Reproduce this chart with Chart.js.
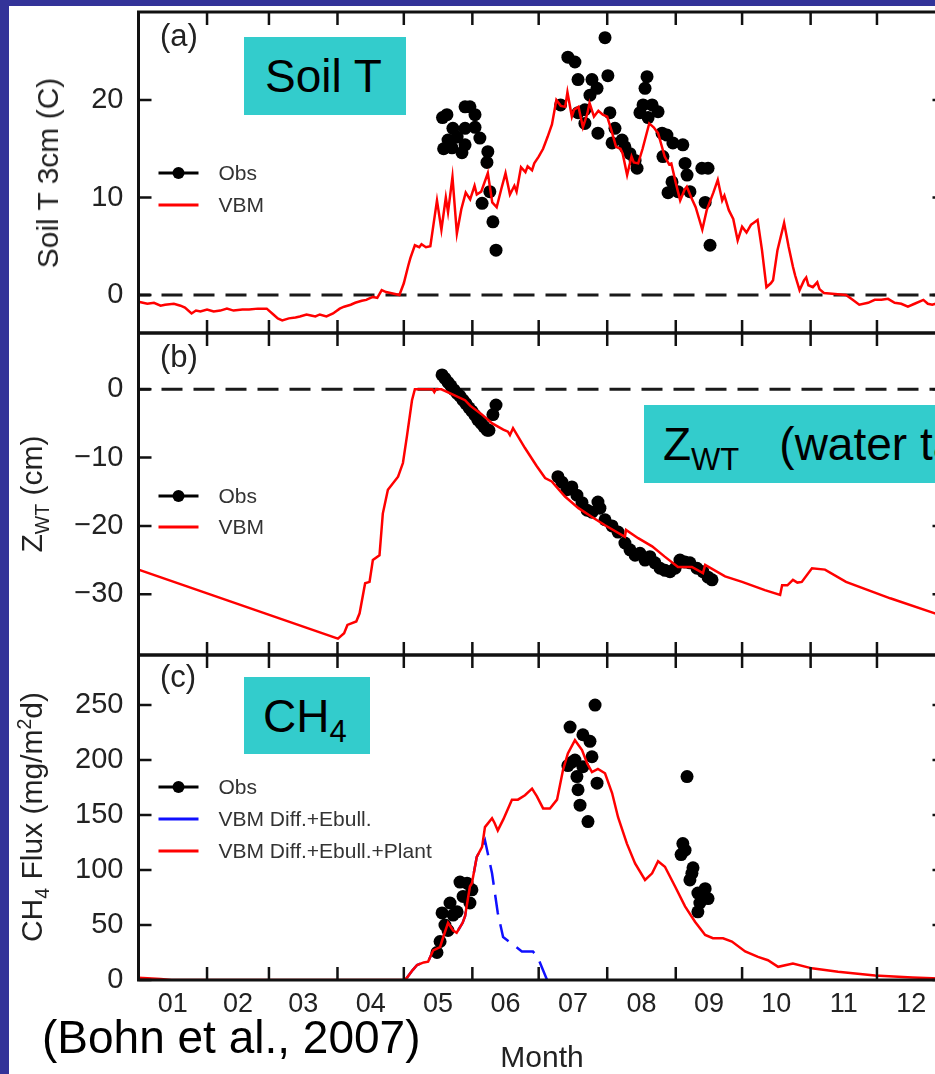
<!DOCTYPE html>
<html>
<head>
<meta charset="utf-8">
<script src="https://cdn.jsdelivr.net/npm/chart.js@4.4.1/dist/chart.umd.min.js"></script>
<style>
  html, body { margin: 0; padding: 0; overflow: hidden; }
  body { width: 935px; height: 1074px; position: relative; background: #fff;
         font-family: "Liberation Sans", Arial, Helvetica, sans-serif; color: #222; }
  .band-top { position: absolute; left: 0; top: 0; width: 935px; height: 6px; background: #333399; z-index: 5; }
  .band-left { position: absolute; left: 0; top: 0; width: 9px; height: 1074px; background: #333399; z-index: 5; }
  canvas { position: absolute; left: 0; }
  .ytitle { position: absolute; transform: translate(-50%, -50%) rotate(-90deg); white-space: nowrap;
            font-size: 30px; line-height: 1; color: #222; z-index: 3; }
  .ytitle sub, .ytitle sup { font-size: 0.65em; line-height: 0; }
  .tag { position: absolute; font-size: 31px; line-height: 1; color: #222; z-index: 3; }
  .box { position: absolute; background: #33cccc; color: #000; font-size: 46px; line-height: 1;
         display: flex; align-items: center; white-space: nowrap; z-index: 3; }
  .box sub { font-size: 31px; line-height: 0; vertical-align: -10px; }
  .cite { position: absolute; left: 42px; top: 1014px; font-size: 46px; line-height: 1; color: #000; z-index: 4; white-space: nowrap; }
</style>
</head>
<body>
<div class="band-top"></div>
<div class="band-left"></div>

<canvas id="panelA" width="960" height="340" style="top:0px"></canvas>
<canvas id="panelB" width="960" height="342" style="top:323px"></canvas>
<canvas id="panelC" width="960" height="432" style="top:645px"></canvas>

<div class="tag" style="left:160px; top:20px">(a)</div>
<div class="tag" style="left:160px; top:341px">(b)</div>
<div class="tag" style="left:160px; top:661px">(c)</div>

<div class="ytitle" style="left:48px; top:173px">Soil T 3cm (C)</div>
<div class="ytitle" style="left:32px; top:494px">Z<sub>WT</sub> (cm)</div>
<div class="ytitle" style="left:32px; top:817px">CH<sub>4</sub> Flux (mg/m<sup>2</sup>d)</div>

<div class="box" style="left:244px; top:37px; width:141px; height:78px; padding-left:21px"><span>Soil T</span></div>
<div class="box" style="left:644px; top:405px; width:330px; height:78px; padding-left:19px"><span>Z<sub>WT</sub><span style="margin-left:40px">(water table)</span></span></div>
<div class="box" style="left:244px; top:677px; width:107px; height:77px; padding-left:19px"><span>CH<sub>4</sub></span></div>

<div class="cite">(Bohn et al., 2007)</div>

<script>
// x axis: day of year, month ticks at boundaries, labels at mid-month
const monthLabels = ['01','02','03','04','05','06','07','08','09','10','11','12'];
const monthMids = [15.5, 45, 74.5, 105, 135.5, 166, 196.5, 227.5, 258, 288.5, 319, 349.5];
const monthStarts = [31, 59, 90, 120, 151, 181, 212, 243, 273, 304, 334];

const soilTicks = [0, 10, 20];
const soilTickLabels = ['0', '10', '20'];
const zwtTicks = [0, -10, -20, -30];
const zwtTickLabels = ['0', '\u221210', '\u221220', '\u221230'];
const ch4Ticks = [0, 50, 100, 150, 200, 250];
const ch4TickLabels = ['0', '50', '100', '150', '200', '250'];

// (a) soil temperature 3cm
const soilModelDay = [0,4,7,10,12,16,19,21,24,26,28,31,34,37,40,43,47,50,54,58,61,63,65,68,71,73,76,78,80,82,85,88,91,93,96,98,101,103,106,108,110,112,114,118,120,122,123,125,127,128,130,132,135,137,139,140,142,144,146,148,150,152,153,155,158,160,162,164,166,168,170,171,173,175,176,178,179,181,183,185,187,189,191,193,194,196,197,199,201,203,204,206,208,210,212,214,216,218,219,221,223,224,226,228,231,233,235,237,238,240,241,243,245,247,248,250,252,255,257,260,262,264,265,267,269,270,271,273,275,277,280,282,284,286,287,289,292,294,296,297,299,301,302,303,305,307,308,310,315,320,323,326,330,333,336,339,342,345,348,351,355,357,359,362,365];
const soilModelVal = [-0.7,-0.9,-0.8,-1.1,-1.0,-0.9,-1.1,-1.3,-1.9,-1.6,-1.7,-1.5,-1.7,-1.6,-1.4,-1.6,-1.5,-1.5,-1.4,-1.4,-2.0,-2.4,-2.6,-2.4,-2.3,-2.2,-2.0,-2.1,-2.2,-2.0,-2.2,-1.9,-1.4,-1.2,-1.0,-0.8,-0.6,-0.5,-0.2,-0.3,0.5,0.3,0.2,0.0,1.2,3.0,3.8,5.1,4.9,5.2,4.9,5.0,9.7,6.7,10.0,8.5,12.1,6.3,8.8,10.5,9.8,11.2,10.3,10.6,12.5,9.5,9.0,10.8,12.5,10.3,11.2,10.6,13.1,12.6,13.2,12.8,13.5,14.2,15.0,16.2,17.5,20.0,19.4,19.3,20.8,18.3,19.0,19.3,17.2,18.6,19.7,18.3,18.9,18.5,18.3,16.8,15.2,15.0,14.5,12.3,14.2,13.6,13.5,15.0,17.6,17.2,16.6,15.0,14.2,13.4,13.5,11.5,9.7,10.8,11.1,10.0,9.0,6.7,8.7,10.5,11.8,9.7,10.2,8.7,7.8,6.7,5.6,7.0,6.4,7.2,7.7,4.6,0.8,1.2,1.5,4.6,7.4,5.0,2.9,2.0,0.5,1.5,1.8,1.0,0.8,1.3,0.6,0.2,0.1,0.0,-0.5,-1.0,-0.8,-0.5,-0.5,-0.4,-0.8,-0.9,-1.2,-0.9,-0.5,-0.9,-1.0,-0.8,-0.9];
const soilObsDay = [137.5,138.0,139.5,140.0,141.8,142.2,144.1,146.3,147.7,147.7,147.7,149.9,152.2,152.2,154.4,157.6,158.0,158.9,155.4,160.3,161.7,
  190.9,194.2,197.4,198.8,198.8,201.9,201.9,204.2,205.1,207.4,207.8,211.0,212.3,213.2,214.2,215.5,218.7,220.0,222.3,224.6,225.5,226.8,228.2,229.1,230.0,230.5,232.3,235.0,236.8,237.2,239.0,239.5,241.3,241.7,244.0,246.2,247.2,248.1,249.4,254.8,256.3,257.6,258.5];
const soilObsVal = [18.2,15.0,18.5,15.9,15.1,17.1,16.2,14.6,19.3,17.1,15.4,19.3,18.5,17.2,16.1,13.6,14.7,10.6,9.4,7.5,4.6,
  19.5,24.4,23.9,22.1,18.7,19.0,17.6,20.5,22.1,21.2,16.6,26.4,22.5,18.7,15.6,17.1,15.9,15.2,14.5,13.8,13.0,18.7,19.5,21.2,22.4,18.2,19.5,18.8,16.6,14.2,16.4,10.5,11.6,15.6,10.6,15.4,13.5,12.3,10.6,13.0,9.5,13.0,5.1];

// (b) water table depth
const zwtModelDay = [0,90.2,93,94.5,98.5,100,102.5,104.5,106,109,110.5,112.8,117.4,119.6,121.4,123.7,125,133,133.8,134.5,137,147.7,150,155,160,165,167.1,168,169.4,174.8,180,183.9,186.9,192.9,199,205.1,211,220,220.5,226,232.3,238,244,250.3,255.3,256.3,265.3,273,283.3,290.2,291.1,293.5,296,298,300,304.6,310.5,320,340,360.2,365];
const zwtModelVal = [-26.4,-36.5,-35.7,-34.5,-34.0,-32.8,-28.4,-28.2,-25.0,-24.3,-18.2,-14.7,-12.8,-10.8,-6.9,-1.6,0.0,0.0,-0.4,0.0,0.0,-1.6,-2.4,-3.6,-5.0,-5.9,-6.2,-6.7,-5.7,-8.6,-11.2,-13.0,-13.5,-15.7,-17.4,-18.7,-19.9,-21.6,-20.6,-21.8,-23.0,-24.5,-26.0,-26.0,-26.9,-25.7,-27.4,-28.2,-29.4,-30.1,-28.7,-28.7,-27.9,-28.3,-28.2,-26.2,-26.4,-28.2,-30.6,-32.8,-33.4];
const zwtObsDay = [137.3,138.6,140.0,141.3,142.7,144.1,145.4,146.8,148.1,149.5,150.8,152.2,153.5,155.0,156.3,157.7,158.5,160.3,161.7,
  189.7,191.5,193.8,196.0,198.3,200.6,202.9,205.1,207.8,208.7,
  211.0,214.2,216.9,220.0,222.3,224.6,226.8,229.1,231.3,233.6,235.9,238.1,240.4,242.7,244.9,247.2,249.4,252.6,255.3,257.6,259.4];
const zwtObsVal = [2.1,1.6,1.0,0.5,-0.1,-0.6,-1.0,-1.6,-2.1,-2.7,-3.2,-3.8,-4.5,-5.0,-5.5,-6.0,-6.0,-3.7,-2.3,
  -12.8,-13.6,-14.7,-14.3,-15.5,-16.6,-17.7,-18.0,-16.5,-17.4,
  -19.1,-20.0,-20.9,-22.5,-23.5,-24.3,-24.0,-25.0,-24.5,-25.4,-26.2,-26.5,-26.7,-26.2,-25.0,-25.3,-25.4,-26.2,-26.7,-27.5,-27.9];

// (c) CH4 flux
const ch4PlantDay = [0,10,15,120,121.4,124,126,129,131,133.3,136.4,138,140,142.3,143.9,146.6,147.7,149.9,150.8,153,155.4,156.7,159.9,161,162.5,165,168.9,171.6,174.8,178,180.2,183,186.1,189.3,192,194.2,197.4,200.6,202.9,205.1,207.8,211,214.2,216.9,220.9,224.6,229.1,232.3,235,238.1,242.7,247.2,251.7,256.3,259.8,264.4,268.4,274.4,280.2,284.7,289.3,296,304.6,316.4,333.1,350,365];
const ch4PlantVal = [2,1,0,0,2,9,13.6,16,16.7,27,30,40,52,45,43,52,58,85,88,112,121,139,147,143,136,146,164,164,168,174,167,156,156,164,191,206,218,209,197,189,192,188,170,148,124,106,91,97,108,103,85,67,53,41,38,38,35,26,21,18,12,15,10.6,7.5,4,2.2,1.2];
const ch4DiffDay = [121.4,124,126,129,131,133.3,136.4,138,140,142.3,143.9,146.6,147.7,149.9,150.8,153,155.4,156.7,159.9,162.5,164.9,168.9,173.4,178.4,180.7,184.8];
const ch4DiffVal = [2,9,13.6,16,16.7,27,30,40,52,45,43,52,58,85,88,112,121,127,97,61,39,33,26,26,20,0];
const ch4ObsDay = [135,136.4,137.3,138.6,140,140.9,142.3,144.1,145.4,146.8,148.6,149.9,150.8,
  194.2,195.2,196,197.4,198.3,198.8,199.7,201,201,203.3,204.2,205.1,206.5,207.4,
  245.4,246.2,247.2,248.1,249.4,250.3,250.8,253,253,253.9,256.3,257.6];
const ch4ObsVal = [25,35,61,50,45,70,59,62,89,76,88,70,82,
  195,230,198,200,185,173,159,223,194,144,217,203,250,179,
  114,124,118,185,91,97,102,79,62,70,83,74];

const FONT = '"Liberation Sans", Arial, Helvetica, sans-serif';
const pts = (xs, ys) => xs.map((x, i) => ({ x: x, y: ys[i] }));

// frame, inward ticks and dashed zero line
const framePlugin = {
  id: 'frame',
  beforeDatasetsDraw(chart, args, opts) {
    if (!opts.zero) return;
    const { ctx, chartArea: a, scales: { y } } = chart;
    const py = y.getPixelForValue(0);
    ctx.save();
    ctx.strokeStyle = '#1a1a1a';
    ctx.lineWidth = 3;
    ctx.setLineDash([21, 11]);
    ctx.lineDashOffset = 9;
    ctx.beginPath(); ctx.moveTo(a.left, py); ctx.lineTo(a.right, py); ctx.stroke();
    ctx.restore();
  },
  afterDraw(chart) {
    const { ctx, chartArea: a, scales: { x, y } } = chart;
    ctx.save();
    ctx.strokeStyle = '#111';
    ctx.lineWidth = 3;
    ctx.strokeRect(a.left, a.top, a.right - a.left, a.bottom - a.top);
    ctx.lineWidth = 2.5;
    ctx.beginPath();
    monthStarts.forEach(d => {
      const px = x.getPixelForValue(d);
      ctx.moveTo(px, a.top); ctx.lineTo(px, a.top + 13);
      ctx.moveTo(px, a.bottom); ctx.lineTo(px, a.bottom - 13);
    });
    y.ticks.forEach(t => {
      const py = y.getPixelForValue(t.value);
      ctx.moveTo(a.left, py); ctx.lineTo(a.left + 13, py);
      ctx.moveTo(a.right, py); ctx.lineTo(a.right - 13, py);
    });
    ctx.stroke();
    ctx.restore();
  }
};

// legend drawn inside the plot, top-left
const legendPlugin = {
  id: 'inLegend',
  afterDraw(chart, args, opts) {
    const { ctx, chartArea: a } = chart;
    ctx.save();
    ctx.font = '21px ' + FONT;
    ctx.textBaseline = 'middle';
    chart.data.datasets.forEach((ds, i) => {
      const y = a.top + opts.top + i * opts.step;
      const x0 = a.left + 20, x1 = a.left + 60;
      ctx.setLineDash([]);
      ctx.strokeStyle = ds.showLine ? ds.borderColor : '#000';
      ctx.lineWidth = 3;
      ctx.beginPath(); ctx.moveTo(x0, y); ctx.lineTo(x1, y); ctx.stroke();
      if (!ds.showLine) {
        ctx.fillStyle = '#000';
        ctx.beginPath(); ctx.arc((x0 + x1) / 2, y, 6, 0, Math.PI * 2); ctx.fill();
      }
      ctx.fillStyle = '#333';
      ctx.fillText(ds.label, a.left + 80, y + 1);
    });
    ctx.restore();
  }
};

function obsSet(label, xs, ys) {
  return { label: label, data: pts(xs, ys), showLine: false, pointRadius: 6.5, pointHoverRadius: 6.5,
           backgroundColor: '#000', borderColor: '#000', borderWidth: 0, order: 1 };
}
function lineSet(label, xs, ys, color, order, dash) {
  return { label: label, data: pts(xs, ys), showLine: true, pointRadius: 0, borderColor: color,
           backgroundColor: color, borderWidth: 2.5, borderDash: dash || [], tension: 0, order: order };
}

function makePanel(id, cfg) {
  return new Chart(document.getElementById(id), {
    type: 'scatter',
    data: { datasets: cfg.datasets },
    options: {
      responsive: false,
      animation: false,
      events: [],
      layout: { padding: { top: cfg.padTop, bottom: cfg.padBottom, left: 0, right: 14.5 } },
      plugins: {
        legend: { display: false },
        tooltip: { enabled: false },
        frame: { zero: cfg.zero },
        inLegend: { top: cfg.legendTop, step: cfg.legendStep }
      },
      scales: {
        x: {
          type: 'linear', min: 0, max: 365,
          display: cfg.showX,
          grid: { display: false, drawTicks: false, tickLength: 0 },
          border: { display: false },
          afterBuildTicks: s => { s.ticks = monthMids.map(v => ({ value: v })); },
          afterFit: s => { s.height = cfg.showX ? 97 : 0; s.paddingLeft = 0; s.paddingRight = 0; },
          ticks: {
            autoSkip: false, maxRotation: 0, minRotation: 0, padding: 8,
            color: '#222', font: { family: FONT, size: 27 },
            callback: v => monthLabels[monthMids.indexOf(v)]
          },
          title: { display: true, text: 'Month', color: '#222', font: { family: FONT, size: 30 },
                   padding: { top: 0, bottom: 0 } }
        },
        y: {
          type: 'linear', min: cfg.yMin, max: cfg.yMax,
          grid: { display: false, drawTicks: false, tickLength: 0 },
          border: { display: false },
          afterBuildTicks: s => { s.ticks = cfg.ticks.map(v => ({ value: v })); },
          afterFit: s => { s.width = 138.5; s.paddingTop = 0; s.paddingBottom = 0; },
          ticks: {
            padding: 15, color: '#222', font: { family: FONT, size: 29 },
            callback: v => cfg.tickLabels[cfg.ticks.indexOf(v)]
          }
        }
      }
    },
    plugins: [framePlugin, legendPlugin]
  });
}

makePanel('panelA', {
  padTop: 12, padBottom: 7, showX: false, zero: true,
  yMin: -3.9, yMax: 29.03, ticks: soilTicks, tickLabels: soilTickLabels,
  legendTop: 161, legendStep: 32,
  datasets: [
    obsSet('Obs', soilObsDay, soilObsVal),
    lineSet('VBM', soilModelDay, soilModelVal, '#ff0000', 0)
  ]
});

makePanel('panelB', {
  padTop: 10, padBottom: 10, showX: false, zero: true,
  yMin: -38.9, yMax: 8.24, ticks: zwtTicks, tickLabels: zwtTickLabels,
  legendTop: 163, legendStep: 31,
  datasets: [
    obsSet('Obs', zwtObsDay, zwtObsVal),
    lineSet('VBM', zwtModelDay, zwtModelVal, '#ff0000', 0)
  ]
});

makePanel('panelC', {
  padTop: 10, padBottom: 0, showX: true, zero: false,
  yMin: 0, yMax: 295.5, ticks: ch4Ticks, tickLabels: ch4TickLabels,
  legendTop: 132, legendStep: 32,
  datasets: [
    obsSet('Obs', ch4ObsDay, ch4ObsVal),
    lineSet('VBM Diff.+Ebull.', ch4DiffDay, ch4DiffVal, '#1010ff', 2, [20, 10]),
    lineSet('VBM Diff.+Ebull.+Plant', ch4PlantDay, ch4PlantVal, '#ff0000', 0)
  ]
});
</script>
</body>
</html>
